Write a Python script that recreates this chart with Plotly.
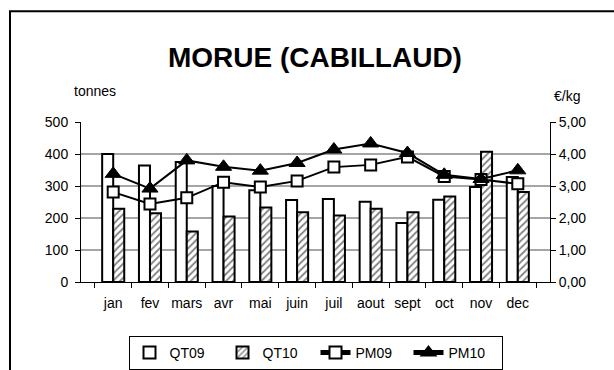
import plotly.graph_objects as go

# Monthly landings (tonnes) and average price (EUR/kg) for cod
months = ["jan", "fev", "mars", "avr", "mai", "juin", "juil", "aout", "sept", "oct", "nov", "dec"]
qt09 = [400, 364, 375, 300, 287, 256, 259, 251, 184, 257, 297, 328]
qt10 = [229, 215, 158, 205, 233, 218, 208, 229, 218, 267, 407, 281]
pm09 = [2.81, 2.44, 2.63, 3.12, 2.97, 3.16, 3.59, 3.66, 3.91, 3.30, 3.20, 3.07]
pm10 = [3.38, 2.92, 3.80, 3.60, 3.48, 3.72, 4.14, 4.33, 4.03, 3.35, 3.22, 3.49]

left_ticks = [0, 100, 200, 300, 400, 500]
right_ticks = [0, 1, 2, 3, 4, 5]

FONT = "Liberation Sans, Arial, sans-serif"

fig = go.Figure()
fig.add_trace(go.Bar(
    x=months, y=qt09, name="QT09",
    marker=dict(color="white", line=dict(color="black", width=2)),
))
fig.add_trace(go.Bar(
    x=months, y=qt10, name="QT10",
    marker=dict(color="white", line=dict(color="black", width=2),
                pattern=dict(shape="/", fgcolor="black", bgcolor="white",
                             size=5, solidity=0.35)),
))
fig.add_trace(go.Scatter(
    x=months, y=pm09, name="PM09", yaxis="y2", mode="lines+markers",
    line=dict(color="black", width=2),
    marker=dict(symbol="square", size=11, color="white",
                line=dict(color="black", width=2)),
))
fig.add_trace(go.Scatter(
    x=months, y=pm10, name="PM10", yaxis="y2", mode="lines+markers",
    line=dict(color="black", width=2),
    marker=dict(symbol="triangle-up", size=14, color="black",
                line=dict(color="black", width=1)),
))

# horizontal grid lines (none along the top edge)
shapes = []
for v in left_ticks[1:-1]:
    shapes.append(dict(type="line", xref="paper", yref="y", x0=0, x1=1, y0=v, y1=v,
                       line=dict(color="#4d4d4d", width=1), layer="below"))
# outer frame of the chart area
shapes.append(dict(type="rect", xref="paper", yref="paper",
                   x0=-0.1514, x1=1.4, y0=-1.2, y1=1.6928,
                   line=dict(color="black", width=2)))

fig.update_layout(
    width=614, height=370,
    margin=dict(l=81, r=64, t=122, b=88, autoexpand=False),
    paper_bgcolor="white", plot_bgcolor="white",
    separators=", ",
    font=dict(family=FONT, size=14, color="black"),
    title=dict(text="<b>MORUE (CABILLAUD)</b>", x=0.513, xanchor="center",
               y=0.846, yanchor="middle",
               font=dict(family=FONT, size=28, color="black")),
    barmode="group", bargap=0.4, bargroupgap=0,
    xaxis=dict(type="category", showline=True, linecolor="black", linewidth=1,
               ticks="outside", tickson="boundaries", ticklen=5,
               tickcolor="black", showgrid=False, zeroline=False,
               tickangle=0, tickfont=dict(size=14), automargin=False,
               ticklabelstandoff=8),
    yaxis=dict(range=[0, 500], tickvals=left_ticks, showline=True,
               linecolor="black", linewidth=1, ticks="outside", ticklen=5,
               tickcolor="black", showgrid=False, zeroline=False,
               tickfont=dict(size=14), automargin=False,
               ticklabelstandoff=4),
    yaxis2=dict(range=[0, 5], tickvals=right_ticks, tickformat=".2f",
                overlaying="y", side="right", showline=True,
                linecolor="black", linewidth=1, ticks="outside", ticklen=5,
                tickcolor="black", showgrid=False, zeroline=False,
                tickfont=dict(size=14), automargin=False),
    legend=dict(orientation="h", x=0.5, xanchor="center",
                yref="container", y=0.092, yanchor="top",
                bordercolor="black", borderwidth=1,
                font=dict(size=14), itemsizing="constant", tracegroupgap=0,
                itemwidth=30, entrywidth=48, entrywidthmode="pixels"),
    shapes=shapes,
    annotations=[
        dict(text="tonnes", xref="paper", yref="paper", x=0.0299, y=1.191,
             showarrow=False, xanchor="center", yanchor="middle",
             font=dict(size=14)),
        dict(text="€/kg", xref="paper", yref="paper", x=1.0356, y=1.162,
             showarrow=False, xanchor="center", yanchor="middle",
             font=dict(size=14)),
    ],
    showlegend=True,
)

fig.write_html("out.html")
